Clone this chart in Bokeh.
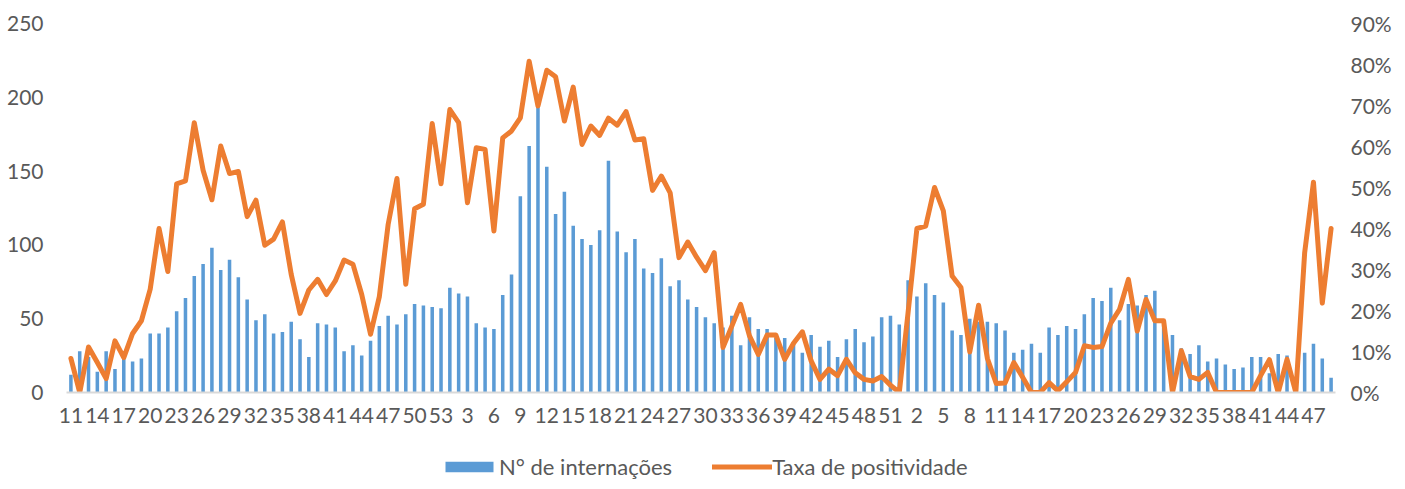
import numpy as np
from bokeh.plotting import figure
from bokeh.layouts import column
from bokeh.models import (Range1d, LinearAxis, FixedTicker, Legend, LegendItem,
                          NumeralTickFormatter, ColumnDataSource)
from bokeh.embed import file_html
from bokeh.resources import INLINE

# Epidemiological weeks: 2020 (11-53), 2021 (1-52), 2022 (1-49)
weeks = ([str(w) for w in range(11, 54)] + [str(w) for w in range(1, 53)]
         + [str(w) for w in range(1, 50)])

internacoes = [
    12, 28, 24, 14, 28, 16, 26, 21, 23, 40, 40, 44, 55, 64, 79, 87, 98, 83, 90, 78,
    63, 49, 53, 40, 41, 48, 36, 24, 47, 46, 44, 28, 32, 25, 35, 45, 52, 46, 53, 60,
    59, 58, 57, 71, 67, 65, 47, 44, 43, 66, 80, 133, 167, 196, 153, 121, 136, 113, 104, 100,
    110, 157, 109, 95, 104, 84, 81, 91, 72, 76, 63, 58, 51, 47, 44, 52, 32, 51, 43, 43,
    37, 37, 33, 27, 39, 31, 35, 24, 36, 43, 34, 38, 51, 52, 46, 76, 65, 74, 66, 61,
    42, 39, 50, 48, 48, 47, 42, 27, 29, 33, 27, 44, 39, 45, 43, 53, 64, 62, 71, 49,
    60, 59, 66, 69, 46, 39, 30, 26, 32, 21, 23, 19, 16, 17, 24, 24, 13, 26, 25, 10,
    27, 33, 23, 10,
]

positividade = [  # percent
    8.3, 0, 11.1, 7.3, 3.4, 12.6, 8.5, 14.4, 17.5, 25.2, 40, 29.5, 50.9, 51.6, 65.8, 54.2, 47, 60.1, 53.4, 53.9,
    42.9, 46.9, 35.9, 37.4, 41.6, 28.8, 19.3, 25, 27.6, 23.9, 27.2, 32.3, 31.3, 23.9, 14.2, 23.4, 41, 52.2, 26.4, 44.8,
    45.9, 65.6, 50.9, 69, 65.8, 46.3, 59.7, 59.3, 39.4, 62.1, 63.8, 67, 80.8, 69.9, 78.6, 77, 66.2, 74.5, 60.5, 65,
    62.7, 66.9, 65.2, 68.5, 61.6, 61.9, 49.3, 52.8, 48.7, 32.9, 36.7, 33, 29.7, 34.1, 11, 16.2, 21.5, 13.8, 9.3, 14,
    14, 8.1, 12, 14.8, 7.7, 3.2, 5.7, 4.1, 8.1, 4.8, 3.2, 2.8, 3.9, 1.8, 0, 19.5, 40, 40.6, 50, 44.3,
    28.4, 25.6, 9.9, 21.3, 8.3, 2.2, 2.3, 7.3, 3.7, 0, 0, 2.4, 0.4, 2.6, 4.9, 11.4, 11, 11.2, 16.9, 20.3,
    27.6, 15, 22.7, 17.5, 17.5, 0, 10.2, 3.9, 3.2, 4.9, 0, 0, 0, 0, 0, 4.1, 8, 0, 8.1, 0,
    34.1, 51.3, 21.8, 40,
]

left_ticks = [0, 50, 100, 150, 200, 250]
right_ticks = [0, 0.1, 0.2, 0.3, 0.4, 0.5, 0.6, 0.7, 0.8, 0.9]

FONT = "Lato"
TXT = "#595959"
FS = "21px"
BLUE = "#5B9BD5"
ORANGE = "#ED7D31"

x = np.arange(len(weeks))
src = ColumnDataSource(dict(x=x, n=internacoes, p=np.array(positividade) / 100.0))

p = figure(frame_width=1269, frame_height=369, output_backend="svg",
           toolbar_location=None,
           x_range=Range1d(-0.5, len(weeks) - 0.5), y_range=Range1d(0, 250),
           min_border_left=66, min_border_right=54, min_border_top=23,
           min_border_bottom=38)
p.extra_y_ranges = {"pct": Range1d(0, 0.9)}
p.outline_line_color = None
p.xgrid.visible = False
p.ygrid.visible = False

bars = p.vbar(x="x", top="n", width=0.4, source=src, fill_color=BLUE,
              line_color=None)
line = p.line(x="x", y="p", source=src, y_range_name="pct", line_color=ORANGE,
              line_width=5, line_join="round", line_cap="round")


def style_axis(ax, standoff):
    ax.axis_line_color = None
    ax.major_tick_line_color = None
    ax.minor_tick_line_color = None
    ax.major_tick_out = 0
    ax.major_tick_in = 0
    ax.minor_tick_out = 0
    ax.minor_tick_in = 0
    ax.major_label_standoff = standoff
    ax.major_label_text_font = FONT
    ax.major_label_text_font_size = FS
    ax.major_label_text_color = TXT


# left axis
ya = p.yaxis[0]
ya.ticker = FixedTicker(ticks=left_ticks)
style_axis(ya, 23)

# right axis
ra = LinearAxis(y_range_name="pct", ticker=FixedTicker(ticks=right_ticks),
                formatter=NumeralTickFormatter(format="0%"))
style_axis(ra, 15)
p.add_layout(ra, "right")

# bottom axis
xa = p.xaxis[0]
tick_idx = list(range(0, len(weeks), 3))
xa.ticker = FixedTicker(ticks=tick_idx)
xa.major_label_overrides = {i: weeks[i] for i in tick_idx}
style_axis(xa, 15)
xa.axis_line_color = "#D9D9D9"
xa.axis_line_width = 2

# legend strip below the chart
lf = figure(width=1389, height=50, output_backend="svg", toolbar_location=None,
            x_range=Range1d(0, 1), y_range=Range1d(0, 1),
            x_axis_type=None, y_axis_type=None,
            min_border_left=0, min_border_right=0, min_border_top=0,
            min_border_bottom=0)
lf.outline_line_color = None
lf.xgrid.visible = False
lf.ygrid.visible = False
# proxy glyphs kept outside the visible range: they only feed the legend
lbars = lf.vbar(x=[-5], top=[-5], bottom=[-6], width=0.5, fill_color=BLUE,
                line_color=None)
lline = lf.line(x=[-6, -5], y=[-5, -5], line_color=ORANGE, line_width=5,
                line_cap="round")

legend = Legend(items=[LegendItem(label="N° de internações", renderers=[lbars]),
                       LegendItem(label="Taxa de positividade", renderers=[lline])],
                orientation="horizontal", location=(373, 0),
                glyph_width=60, glyph_height=13, label_standoff=0, spacing=40,
                padding=0, margin=0, border_line_color=None,
                background_fill_alpha=0, label_text_font=FONT,
                label_text_font_size="22px", label_text_color=TXT)
lf.add_layout(legend)

layout = column(p, lf, spacing=0)
open("out.html", "w").write(file_html(layout, INLINE))
